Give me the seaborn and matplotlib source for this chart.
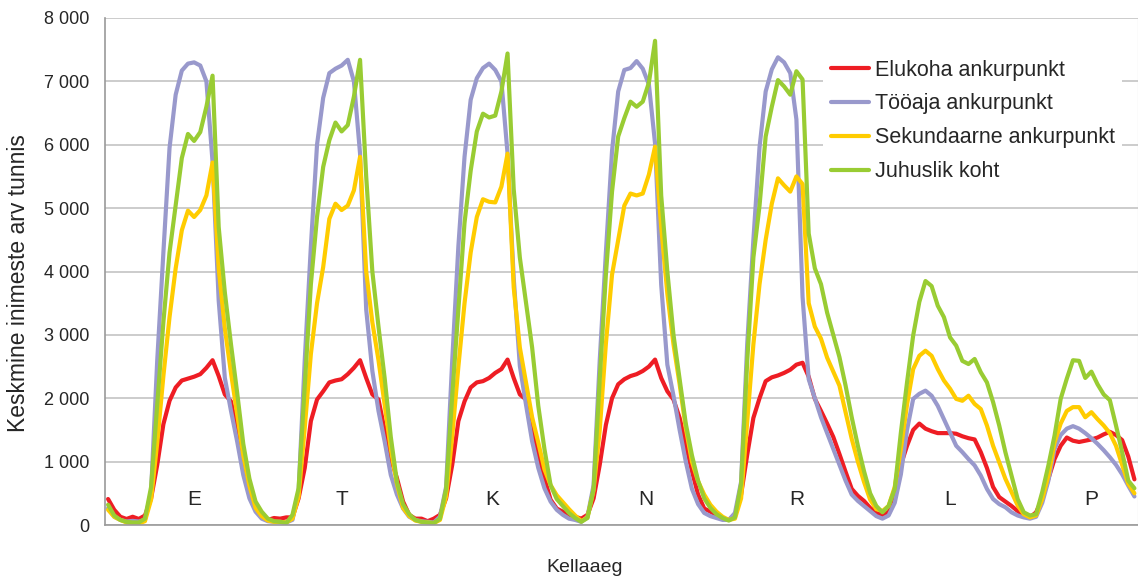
import pandas as pd
import matplotlib
matplotlib.use('Agg')
import matplotlib.pyplot as plt
from matplotlib.ticker import FuncFormatter
import seaborn as sns

# nädala tunnid: 0 = esmaspäev 00:00 ... 167 = pühapäev 23:00
tunnid = list(range(168))

# keskmine inimeste arv tunnis (üks rida = üks päev, E..P)
elukoha = [
    410, 240, 130, 95, 130, 95, 150, 420, 950, 1590, 1960, 2170, 2280, 2310, 2340, 2380, 2480, 2600, 2350, 2060, 1950, 1480, 1060, 640,
    320, 160, 80, 110, 100, 120, 120, 420, 900, 1640, 1980, 2110, 2250, 2280, 2300, 2380, 2480, 2600, 2320, 2060, 1980, 1500, 1050, 740,
    370, 160, 100, 100, 60, 100, 160, 420, 950, 1640, 1950, 2170, 2250, 2270, 2320, 2400, 2460, 2610, 2320, 2060, 1980, 1480, 1110, 740,
    400, 260, 210, 160, 130, 100, 160, 420, 950, 1580, 2000, 2220, 2300, 2350, 2380, 2430, 2500, 2610, 2320, 2110, 1980, 1690, 1270, 850,
    480, 260, 210, 160, 100, 80, 160, 480, 1110, 1690, 2000, 2270, 2330, 2360, 2400, 2450, 2530, 2560, 2340, 1990, 1800, 1600, 1390, 1120,
    840, 570, 460, 380, 270, 190, 160, 200, 450, 950, 1250, 1500, 1600, 1520, 1480, 1450, 1450, 1450, 1440, 1400, 1370, 1350, 1150, 900,
    600, 440, 370, 300, 220, 160, 120, 200, 410, 730, 1040, 1250, 1380, 1330, 1310, 1330, 1350, 1380, 1430, 1470, 1420, 1340, 1080, 720,
]
tooaja = [
    265, 130, 80, 55, 65, 55, 80, 530, 2600, 4300, 5950, 6790, 7170, 7280, 7300, 7250, 7000, 5730, 3540, 2320, 1800, 1320, 790, 420,
    210, 100, 60, 50, 50, 40, 80, 530, 2600, 4400, 6000, 6740, 7130, 7200, 7250, 7340, 7000, 5860, 3400, 2430, 1800, 1320, 790, 480,
    260, 130, 80, 60, 50, 40, 130, 600, 2600, 4400, 5810, 6710, 7050, 7210, 7280, 7180, 7000, 5860, 3900, 2510, 1900, 1320, 900, 580,
    370, 240, 160, 100, 80, 50, 130, 630, 2600, 4300, 5900, 6840, 7180, 7210, 7320, 7200, 6950, 6020, 3790, 2530, 2040, 1500, 1000, 570,
    330, 190, 140, 110, 80, 80, 190, 680, 2860, 4500, 5960, 6840, 7190, 7380, 7300, 7130, 6400, 3600, 2300, 2000, 1700, 1450, 1200, 950,
    700, 480, 380, 300, 220, 140, 100, 150, 350, 800, 1500, 1990, 2070, 2120, 2040, 1880, 1670, 1460, 1250, 1150, 1040, 940, 780, 570,
    410, 330, 280, 200, 150, 120, 100, 130, 350, 700, 1200, 1420, 1520, 1560, 1520, 1450, 1370, 1280, 1180, 1070, 950, 800, 620, 450,
]
sekundaarne = [
    240, 130, 80, 40, 25, 25, 60, 400, 1300, 2350, 3280, 4050, 4650, 4960, 4860, 4970, 5200, 5720, 4050, 3100, 2400, 1750, 1100, 620,
    270, 140, 70, 50, 50, 40, 100, 450, 1530, 2700, 3500, 4070, 4830, 5070, 4970, 5040, 5280, 5810, 4000, 3200, 2600, 1900, 1200, 650,
    270, 140, 70, 50, 40, 30, 80, 450, 1400, 2500, 3500, 4300, 4860, 5140, 5100, 5090, 5340, 5860, 3750, 2800, 2250, 1700, 1300, 880,
    630, 470, 360, 250, 150, 60, 120, 550, 1500, 2860, 3950, 4500, 5040, 5230, 5200, 5230, 5530, 5970, 4700, 3650, 2850, 2220, 1530, 1000,
    690, 480, 320, 210, 130, 80, 100, 420, 1640, 2850, 3800, 4500, 5070, 5470, 5360, 5260, 5500, 5380, 3500, 3130, 2940, 2640, 2420, 2200,
    1780, 1360, 1000, 680, 400, 250, 220, 300, 600, 1200, 1900, 2460, 2670, 2750, 2670, 2460, 2280, 2150, 1990, 1960, 2040, 1910, 1830, 1570,
    1250, 990, 730, 520, 310, 170, 120, 150, 410, 780, 1300, 1600, 1800, 1860, 1860, 1700, 1780, 1670, 1570, 1450, 1250, 950, 650, 500,
]
juhuslik = [
    320, 150, 80, 50, 40, 40, 100, 600, 1900, 3200, 4300, 5050, 5790, 6170, 6060, 6200, 6600, 7090, 4700, 3670, 2850, 2090, 1280, 730,
    370, 210, 100, 60, 50, 30, 160, 580, 2200, 3800, 4860, 5650, 6070, 6350, 6210, 6310, 6760, 7340, 5500, 4000, 3130, 2320, 1390, 680,
    330, 170, 80, 50, 40, 30, 100, 570, 2040, 3400, 4770, 5590, 6210, 6490, 6430, 6460, 6840, 7440, 5300, 4220, 3510, 2800, 1880, 1200,
    630, 410, 300, 190, 110, 50, 110, 570, 2300, 3950, 5260, 6130, 6420, 6680, 6600, 6680, 6980, 7640, 5200, 4000, 3000, 2300, 1600, 1100,
    700, 420, 270, 170, 110, 70, 120, 650, 2590, 4220, 5040, 6130, 6600, 7020, 6920, 6790, 7160, 7030, 4600, 4050, 3800, 3350, 3000, 2650,
    2200, 1700, 1250, 850, 500, 300, 200, 300, 570, 1460, 2250, 2990, 3520, 3850, 3770, 3460, 3280, 2960, 2830, 2590, 2540, 2620, 2410, 2250,
    1940, 1570, 1150, 780, 410, 200, 150, 170, 520, 940, 1410, 1990, 2310, 2600, 2590, 2320, 2420, 2220, 2060, 1970, 1570, 1150, 700, 580,
]

nimed = ['Elukoha ankurpunkt', 'Tööaja ankurpunkt', 'Sekundaarne ankurpunkt', 'Juhuslik koht']
varvid = ['#EE1D24', '#9999CC', '#FFCC00', '#99CC33']

# päevade tähed graafiku all
paevad = ['E', 'T', 'K', 'N', 'R', 'L', 'P']
paeva_kohad = [14, 38, 62.5, 87.5, 112, 137, 160]

df = pd.DataFrame({
    'tund': tunnid * 4,
    'inimesi': elukoha + tooaja + sekundaarne + juhuslik,
    'koht': [n for n in nimed for _ in tunnid],
})

sns.set_style('white')
plt.rcParams['font.family'] = ['Liberation Sans', 'DejaVu Sans']
plt.rcParams['lines.solid_joinstyle'] = 'round'
plt.rcParams['lines.solid_capstyle'] = 'round'

fig = plt.figure(figsize=(11.38, 5.81), dpi=100)
ax = fig.add_axes([105 / 1138, 56 / 581, 1032.5 / 1138, 507 / 581])

sns.lineplot(data=df, x='tund', y='inimesi', hue='koht', hue_order=nimed,
             palette=varvid, linewidth=3, ax=ax)

ax.set_xlim(-0.5, 167.5)
ax.set_ylim(0, 8000)
ax.set_yticks(range(0, 8001, 1000))
ax.yaxis.set_major_formatter(FuncFormatter(lambda v, p: f'{int(v):,}'.replace(',', ' ')))
ax.set_xticks([t - 0.5 for t in tunnid] + [167.5])
ax.set_xticklabels([])
ax.tick_params(axis='y', length=0, pad=11, labelsize=13)
ax.tick_params(axis='x', length=5, width=1, color='#A0A0A0', direction='out')

ax.yaxis.grid(True, color='#C8C8C8', linewidth=1.3)
ax.set_axisbelow(True)
for s in ['left', 'bottom']:
    ax.spines[s].set_color('#9A9A9A')
    ax.spines[s].set_linewidth(1.2)
ax.spines['top'].set_visible(False)
ax.spines['right'].set_color('#C8C8C8')

for p, x in zip(paevad, paeva_kohad):
    ax.text(x, 400, p, ha='center', va='center', fontsize=15)

ax.set_ylabel('Keskmine inimeste arv tunnis', fontsize=16.5)
ax.yaxis.set_label_coords(-0.073, 0.478)
ax.set_xlabel('Kellaaeg', fontsize=14)
ax.xaxis.set_label_coords(0.465, -0.068)

h, l = ax.get_legend_handles_labels()
leg = ax.legend(h, l, loc='upper left', bbox_to_anchor=(823 / 1138, 1 - 52 / 581),
                bbox_transform=fig.transFigure, fontsize=15.5, frameon=True,
                fancybox=False, edgecolor='none', facecolor='white', framealpha=1,
                borderaxespad=0, borderpad=0.35, handlelength=1.8,
                handletextpad=0.25, labelspacing=0.6)

fig.savefig('out.png', dpi=100)
